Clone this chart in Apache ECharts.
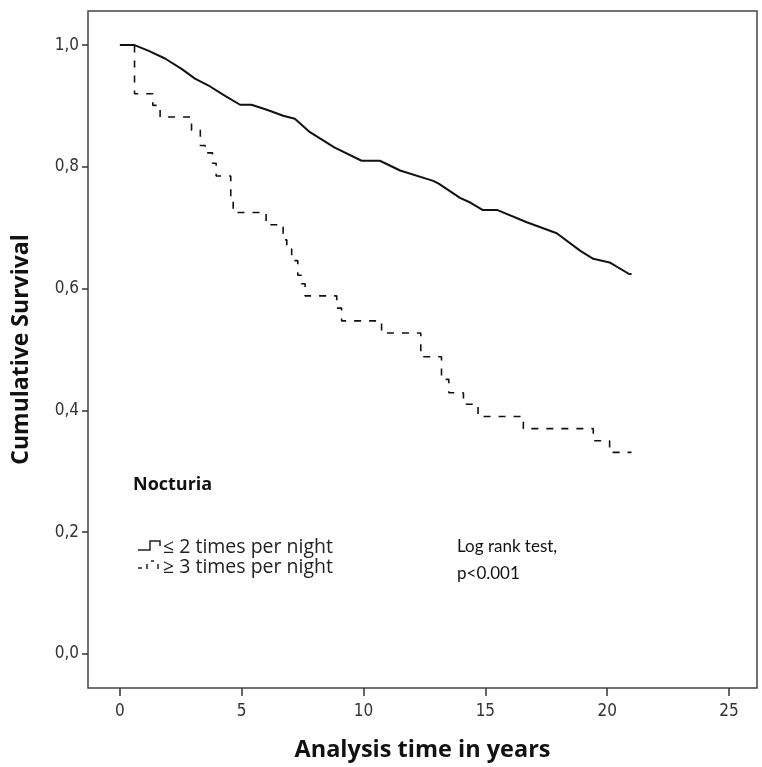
<!DOCTYPE html>
<html>
<head>
<meta charset="utf-8">
<script src="https://cdn.jsdelivr.net/npm/echarts@6/dist/echarts.min.js"></script>
<style>html,body{margin:0;padding:0;background:#fff}#c{width:762px;height:767px}</style>
</head>
<body>
<div id="c"></div>
<script>
// ---- data ----
const xTicks = [0, 5, 10, 15, 20, 25];
const yTicks = [0, 0.2, 0.4, 0.6, 0.8, 1.0];
const yTickLabels = ['0,0', '0,2', '0,4', '0,6', '0,8', '1,0'];

// ≤ 2 times per night (fine-grained KM curve)
const lowTimes = [0, 0.6, 1.16, 1.85, 2.53, 3.08, 3.62, 4.3, 4.93, 5.4, 6.09, 6.7, 7.18, 7.8, 8.8, 9.92, 10.67, 11.5, 12.86, 13.1, 13.96, 14.4, 14.9, 15.5, 16.7, 17.93, 18.9, 19.43, 20.1, 20.9, 21.0];
const lowSurv  = [1.0, 1.0, 0.991, 0.978, 0.961, 0.945, 0.934, 0.917, 0.902, 0.902, 0.893, 0.884, 0.879, 0.857, 0.832, 0.810, 0.810, 0.794, 0.777, 0.772, 0.749, 0.741, 0.729, 0.729, 0.709, 0.691, 0.662, 0.649, 0.643, 0.624, 0.624];

// ≥ 3 times per night (step KM curve)
const highTimes = [0, 0.6, 1.35, 1.65, 2.94, 3.3, 3.5, 3.8, 3.95, 4.55, 4.65, 6.0, 6.7, 6.85, 7.05, 7.3, 7.45, 7.6, 8.9, 9.1, 10.74, 12.35, 13.2, 13.5, 14.1, 14.7, 16.56, 19.43, 20.1, 21.0];
const highSurv  = [1.0, 0.920, 0.901, 0.882, 0.860, 0.835, 0.823, 0.806, 0.785, 0.750, 0.725, 0.705, 0.680, 0.665, 0.646, 0.622, 0.608, 0.588, 0.568, 0.547, 0.527, 0.488, 0.451, 0.429, 0.410, 0.390, 0.370, 0.350, 0.331, 0.331];

const legendTitle = 'Nocturia';
const seriesNames = ['≤ 2 times per night', '≥ 3 times per night'];
const noteLines = ['Log rank test,', 'p<0.001'];

const toPairs = (xs, ys) => xs.map((x, i) => [x, ys[i]]);

const chart = echarts.init(document.getElementById('c'), null, {renderer: 'canvas'});
const tickFont = '"DejaVu Sans Condensed", "Liberation Sans Narrow", "Roboto", sans-serif';
const titleFont = '"Open Sans", sans-serif';
chart.setOption({
  animation: false,
  backgroundColor: '#ffffff',
  grid: {left: 88, right: 5, top: 11, bottom: 79, show: true, borderColor: '#444', borderWidth: 1.5,
    backgroundColor: 'transparent', containLabel: false, outerBoundsMode: 'none'},
  xAxis: {
    type: 'value', min: -1.31, max: 26.15,
    name: 'Analysis time in years', nameLocation: 'middle', nameGap: 50,
    nameTextStyle: {fontFamily: titleFont, fontWeight: 'bold', fontSize: 23.5, color: '#111'},
    axisLine: {show: false, onZero: false},
    splitLine: {show: false},
    axisTick: {show: true, customValues: xTicks, length: 8, inside: false, lineStyle: {color: '#333', width: 1.5}},
    axisLabel: {customValues: xTicks, fontFamily: tickFont, fontSize: 17, color: '#333', margin: 15}
  },
  yAxis: {
    type: 'value', min: -0.056, max: 1.056,
    name: 'Cumulative Survival', nameLocation: 'middle', nameGap: 55, nameRotate: 90,
    nameTextStyle: {fontFamily: titleFont, fontWeight: 'bold', fontSize: 23, color: '#111'},
    axisLine: {show: false, onZero: false},
    splitLine: {show: false},
    axisTick: {show: true, customValues: yTicks, length: 6, inside: false, lineStyle: {color: '#333', width: 1.5}},
    axisLabel: {customValues: yTicks, fontFamily: tickFont, fontSize: 17, color: '#333', margin: 9,
      formatter: v => { const i = yTicks.findIndex(t => Math.abs(t - v) < 1e-6); return i >= 0 ? yTickLabels[i] : ''; }}
  },
  series: [
    {name: seriesNames[0], type: 'line', data: toPairs(lowTimes, lowSurv), showSymbol: false, symbol: 'none',
      lineStyle: {color: '#111', width: 2, type: 'solid'}},
    {name: seriesNames[1], type: 'line', step: 'end', data: toPairs(highTimes, highSurv), showSymbol: false, symbol: 'none',
      lineStyle: {color: '#111', width: 1.6, type: [7, 8]}}
  ],
  graphic: [
    {type: 'text', left: 133, top: 476, style: {text: legendTitle, fontFamily: titleFont, fontWeight: 'bold', fontSize: 18, fill: '#111'}},
    {type: 'polyline', shape: {points: [[138, 550], [150, 550], [150, 541], [160, 541], [160, 546]]}, style: {stroke: '#222', lineWidth: 1.5, fill: null}},
    {type: 'text', left: 163, top: 537, style: {text: seriesNames[0], fontFamily: titleFont, fontSize: 19.5, fill: '#222'}},
    {type: 'line', shape: {x1: 138, y1: 568, x2: 142, y2: 568}, style: {stroke: '#222', lineWidth: 1.5}},
    {type: 'line', shape: {x1: 147, y1: 564, x2: 147, y2: 569}, style: {stroke: '#222', lineWidth: 1.5}},
    {type: 'line', shape: {x1: 151, y1: 561, x2: 154, y2: 561}, style: {stroke: '#222', lineWidth: 1.5}},
    {type: 'line', shape: {x1: 158, y1: 564, x2: 158, y2: 569}, style: {stroke: '#222', lineWidth: 1.5}},
    {type: 'text', left: 163, top: 557, style: {text: seriesNames[1], fontFamily: titleFont, fontSize: 19.5, fill: '#222'}},
    {type: 'text', left: 457, top: 538, style: {text: noteLines[0], fontFamily: 'Lato, sans-serif', fontSize: 17, fill: '#111'}},
    {type: 'text', left: 457, top: 565, style: {text: noteLines[1], fontFamily: 'Lato, sans-serif', fontSize: 17, fill: '#111'}}
  ]
});
</script>
</body>
</html>
